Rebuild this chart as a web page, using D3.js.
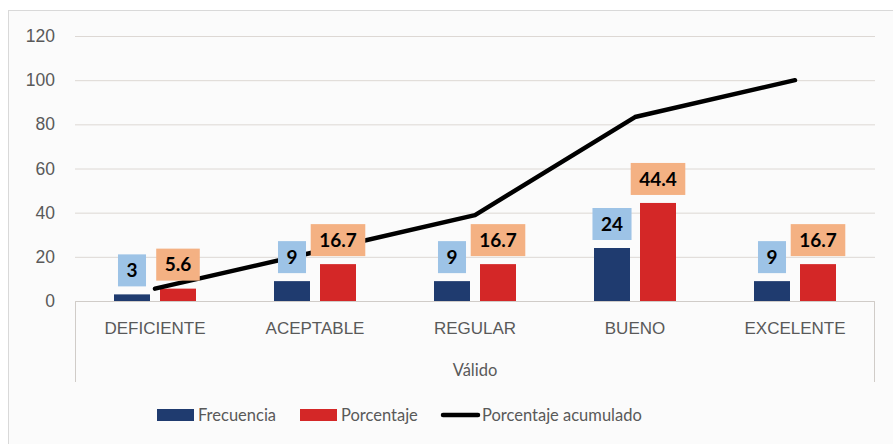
<!DOCTYPE html>
<html>
<head>
<meta charset="utf-8">
<script src="https://cdn.jsdelivr.net/npm/d3@7"></script>
<style>
  body { margin: 0; background: #fff; }
  svg { display: block; font-family: Lato, "Open Sans", sans-serif; }
  .axis text { fill: #595959; font-size: 17px; }
  .grid line { stroke: #ddd8d4; }
  .grid path { display: none; }
</style>
</head>
<body>
<svg width="893" height="444"></svg>
<script>
var categories = ["DEFICIENTE", "ACEPTABLE", "REGULAR", "BUENO", "EXCELENTE"];
var frecuencia = [3, 9, 9, 24, 9];
var porcentaje = [5.6, 16.7, 16.7, 44.4, 16.7];
var acumulado = [5.6, 22.2, 38.9, 83.3, 100];
var yTicks = [0, 20, 40, 60, 80, 100, 120];
var groupLabel = "Válido";
var seriesNames = ["Frecuencia", "Porcentaje", "Porcentaje acumulado"];

var colors = {frec: "#1f3b6f", porc: "#d42727", acum: "#000",
              frecLabel: "#9dc3e6", porcLabel: "#f4b183"};

var svg = d3.select("svg");
var margin = {top: 36, right: 18, bottom: 143, left: 75},
    width = 893 - margin.left - margin.right,
    height = 444 - margin.top - margin.bottom;

// chart frame
svg.append("rect")
  .attr("x", 8.5).attr("y", 10.5)
  .attr("width", 900).attr("height", 450)
  .attr("fill", "#fbfbfb")
  .attr("stroke", "#d9d9d9");

var g = svg.append("g")
  .attr("transform", "translate(" + margin.left + "," + margin.top + ")");

var x = d3.scaleBand().domain(categories).range([0, width]);
var y = d3.scaleLinear().domain([0, 120]).range([height, 0]);

// gridlines
g.append("g")
  .attr("class", "grid")
  .call(d3.axisLeft(y).tickValues(yTicks).tickSize(-width).tickFormat(""));

// y labels
g.append("g")
  .attr("class", "axis")
  .call(d3.axisLeft(y).tickValues(yTicks).tickSize(0).tickPadding(20))
  .call(a => a.select(".domain").remove())
  .selectAll("text").style("font-size", "17.5px");

// category axis with group box
var catAxis = g.append("g")
  .attr("class", "axis")
  .attr("transform", "translate(0," + height + ")")
  .call(d3.axisBottom(x).tickSize(0).tickPadding(21));
catAxis.select(".domain").remove();

g.append("path")
  .attr("d", "M0.5," + (height + 81) + "V" + (height + 0.5) + "H" + (width - 0.5) + "V" + (height + 81))
  .attr("fill", "none")
  .attr("stroke", "#d0ccc8");

g.append("text")
  .attr("x", width / 2)
  .attr("y", height + 75)
  .attr("text-anchor", "middle")
  .attr("fill", "#595959")
  .style("font-size", "16.5px")
  .text(groupLabel);

// bars
var barW = 36, off = 23;
var rows = categories.map((c, i) => ({cat: c, f: frecuencia[i], p: porcentaje[i], a: acumulado[i]}));

g.selectAll(".bar-f").data(rows).enter().append("rect")
  .attr("x", d => x(d.cat) + x.bandwidth() / 2 - off - barW / 2)
  .attr("y", d => y(d.f))
  .attr("width", barW)
  .attr("height", d => height - y(d.f))
  .attr("fill", colors.frec);

g.selectAll(".bar-p").data(rows).enter().append("rect")
  .attr("x", d => x(d.cat) + x.bandwidth() / 2 + off - barW / 2)
  .attr("y", d => y(d.p))
  .attr("width", barW)
  .attr("height", d => height - y(d.p))
  .attr("fill", colors.porc);

// cumulative line
var line = d3.line()
  .x(d => x(d.cat) + x.bandwidth() / 2)
  .y(d => y(d.a));

g.append("path")
  .datum(rows)
  .attr("d", line)
  .attr("fill", "none")
  .attr("stroke", colors.acum)
  .attr("stroke-width", 4.5)
  .attr("stroke-linecap", "round")
  .attr("stroke-linejoin", "round");

// data labels with filled boxes
function addLabel(cx, top, txt, fill) {
  var lg = g.append("g");
  var rect = lg.append("rect").attr("fill", fill);
  var t = lg.append("text")
    .attr("x", cx)
    .attr("y", top - 8 - 16)
    .attr("dy", "0.36em")
    .attr("text-anchor", "middle")
    .style("font-size", "19px")
    .style("font-weight", "bold")
    .attr("fill", "#000")
    .text(txt);
  var w = t.node().getComputedTextLength() + 17;
  rect.attr("x", cx - w / 2).attr("y", top - 8 - 32)
    .attr("width", w).attr("height", 32);
}

rows.forEach(function(d) {
  var c = x(d.cat) + x.bandwidth() / 2;
  addLabel(c - off, y(d.f), d.f, colors.frecLabel);
  addLabel(c + off, y(d.p), d.p, colors.porcLabel);
});

// legend
var legend = svg.append("g").attr("transform", "translate(0,415)");
var items = [
  {name: seriesNames[0], x: 157, type: "rect", color: colors.frec},
  {name: seriesNames[1], x: 300, type: "rect", color: colors.porc},
  {name: seriesNames[2], x: 441, type: "line", color: colors.acum}
];
items.forEach(function(it) {
  if (it.type === "rect") {
    legend.append("rect").attr("x", it.x).attr("y", -6).attr("width", 37).attr("height", 12).attr("fill", it.color);
  } else {
    legend.append("line").attr("x1", it.x + 2).attr("x2", it.x + 37).attr("y1", 0).attr("y2", 0)
      .attr("stroke", it.color).attr("stroke-width", 4.5).attr("stroke-linecap", "round");
  }
  legend.append("text")
    .attr("x", it.x + 41)
    .attr("dy", "0.35em")
    .attr("fill", "#595959")
    .style("font-size", "16.5px")
    .text(it.name);
});
</script>
</body>
</html>
